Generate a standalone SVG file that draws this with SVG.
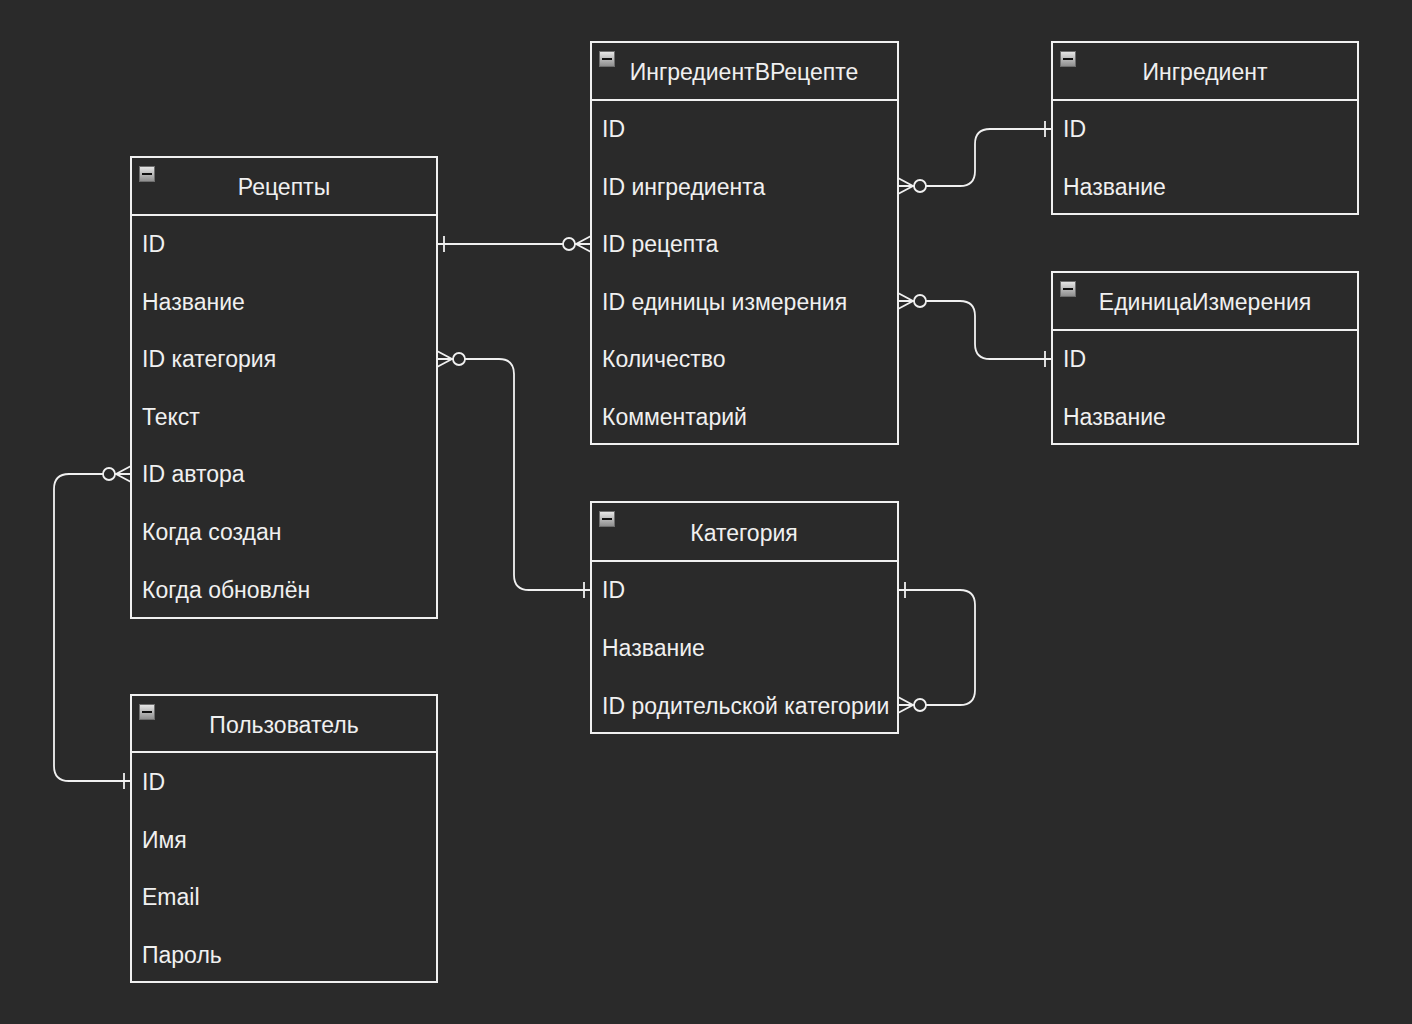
<svg xmlns="http://www.w3.org/2000/svg" width="1412" height="1024" viewBox="0 0 1412 1024">
<style>
.box{fill:#2a2a2a;stroke:#f0f0f0;stroke-width:2}
.sep{stroke:#f0f0f0;stroke-width:2}
.t{font-family:"Liberation Sans",Arial,sans-serif;font-size:23px;fill:#f0f0f0}
.h{text-anchor:middle}
.ln{fill:none;stroke:#f0f0f0;stroke-width:1.8}
.mk{fill:#2a2a2a;stroke:#f0f0f0;stroke-width:1.8}
</style>
<defs>
<linearGradient id="g" x1="0" y1="0" x2="0" y2="1"><stop offset="0" stop-color="#e8e8e8"/><stop offset="1" stop-color="#8c8c8c"/></linearGradient>
<g id="minus"><rect x="0.5" y="0.5" width="15" height="15" fill="url(#g)" stroke="#6e6e6e"/><rect x="3" y="7" width="10" height="2" fill="#111"/></g>
<marker id="zm" markerUnits="userSpaceOnUse" orient="auto-start-reverse" markerWidth="40" markerHeight="30" refX="0" refY="0" viewBox="-35 -15 40 30" overflow="visible">
<path class="mk" d="M0,-8 L-15,0 L0,8 M-15,0 L0,0" fill="none"/><circle class="mk" cx="-22" cy="0" r="6"/>
</marker>
<marker id="one" markerUnits="userSpaceOnUse" orient="auto-start-reverse" markerWidth="40" markerHeight="30" refX="0" refY="0" viewBox="-35 -15 40 30" overflow="visible">
<path class="mk" d="M-7,-8 L-7,8"/>
</marker>
</defs>
<rect width="1412" height="1024" fill="#2a2a2a"/>
<g id="connectors">
<path class="ln" d="M437,244 L591,244" marker-start="url(#one)" marker-end="url(#zm)"/>
<path class="ln" d="M898,186 L960,186 Q975,186 975,171 L975,144 Q975,129 990,129 L1052,129" marker-start="url(#zm)" marker-end="url(#one)"/>
<path class="ln" d="M898,301 L960,301 Q975,301 975,316 L975,344 Q975,359 990,359 L1052,359" marker-start="url(#zm)" marker-end="url(#one)"/>
<path class="ln" d="M437,359 L499,359 Q514,359 514,374 L514,575 Q514,590 529,590 L591,590" marker-start="url(#zm)" marker-end="url(#one)"/>
<path class="ln" d="M131,474 L69,474 Q54,474 54,489 L54,766 Q54,781 69,781 L131,781" marker-start="url(#zm)" marker-end="url(#one)"/>
<path class="ln" d="M898,590 L960,590 Q975,590 975,605 L975,690 Q975,705 960,705 L898,705" marker-start="url(#one)" marker-end="url(#zm)"/>
</g>
<g id="recipes">
<rect class="box" x="131" y="157" width="306" height="461"/>
<line class="sep" x1="131" y1="215" x2="437" y2="215"/>
<use href="#minus" x="139" y="166"/>
<text class="t h" x="284" y="195">Рецепты</text>
<text class="t" x="142" y="252">ID</text>
<text class="t" x="142" y="310">Название</text>
<text class="t" x="142" y="367">ID категория</text>
<text class="t" x="142" y="425">Текст</text>
<text class="t" x="142" y="482">ID автора</text>
<text class="t" x="142" y="540">Когда создан</text>
<text class="t" x="142" y="598">Когда обновлён</text>
</g>
<g id="recipeIngredient">
<rect class="box" x="591" y="42" width="307" height="402"/>
<line class="sep" x1="591" y1="100" x2="898" y2="100"/>
<use href="#minus" x="599" y="51"/>
<text class="t h" x="744" y="80">ИнгредиентВРецепте</text>
<text class="t" x="602" y="137">ID</text>
<text class="t" x="602" y="195">ID ингредиента</text>
<text class="t" x="602" y="252">ID рецепта</text>
<text class="t" x="602" y="310">ID единицы измерения</text>
<text class="t" x="602" y="367">Количество</text>
<text class="t" x="602" y="425">Комментарий</text>
</g>
<g id="ingredient">
<rect class="box" x="1052" y="42" width="306" height="172"/>
<line class="sep" x1="1052" y1="100" x2="1358" y2="100"/>
<use href="#minus" x="1060" y="51"/>
<text class="t h" x="1205" y="80">Ингредиент</text>
<text class="t" x="1063" y="137">ID</text>
<text class="t" x="1063" y="195">Название</text>
</g>
<g id="unit">
<rect class="box" x="1052" y="272" width="306" height="172"/>
<line class="sep" x1="1052" y1="330" x2="1358" y2="330"/>
<use href="#minus" x="1060" y="281"/>
<text class="t h" x="1205" y="310">ЕдиницаИзмерения</text>
<text class="t" x="1063" y="367">ID</text>
<text class="t" x="1063" y="425">Название</text>
</g>
<g id="category">
<rect class="box" x="591" y="502" width="307" height="231"/>
<line class="sep" x1="591" y1="561" x2="898" y2="561"/>
<use href="#minus" x="599" y="511"/>
<text class="t h" x="744" y="541">Категория</text>
<text class="t" x="602" y="598">ID</text>
<text class="t" x="602" y="656">Название</text>
<text class="t" x="602" y="714">ID родительской категории</text>
</g>
<g id="user">
<rect class="box" x="131" y="695" width="306" height="287"/>
<line class="sep" x1="131" y1="752" x2="437" y2="752"/>
<use href="#minus" x="139" y="704"/>
<text class="t h" x="284" y="733">Пользователь</text>
<text class="t" x="142" y="790">ID</text>
<text class="t" x="142" y="848">Имя</text>
<text class="t" x="142" y="905">Email</text>
<text class="t" x="142" y="963">Пароль</text>
</g>
</svg>
